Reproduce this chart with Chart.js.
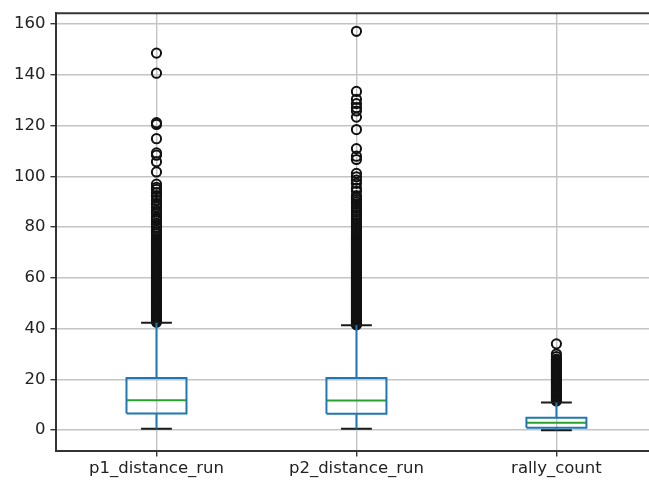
<!DOCTYPE html>
<html>
<head>
<meta charset="utf-8">
<script src="https://cdn.jsdelivr.net/npm/chart.js@4"></script>
<style>
html, body { margin: 0; padding: 0; background: #fff; overflow: hidden; }
#wrap { width: 663px; height: 481px; position: relative; }
</style>
</head>
<body>
<div id="wrap"><canvas id="boxChart"></canvas></div>
<script>
// Box plot of rally stats - drawn with scatter/line datasets

const categories = ['p1_distance_run', 'p2_distance_run', 'rally_count'];
const whiskerLow = [0.6, 0.6, 0];
const q1 = [6.6, 6.5, 1];
const medians = [11.8, 11.7, 2.9];
const q3 = [20.6, 20.6, 4.9];
const whiskerHigh = [42.3, 41.3, 10.9];

const p1Outliers = [148.5, 140.6, 121.1, 120.4, 114.8, 109.2, 108.3, 105.7, 101.7, 96.9, 95.6, 94.8, 93.6,
    92.4, 91.9, 90.6, 89.3, 88.7, 87.9, 86.7, 86.1, 85.2, 84.0, 83.4, 82.6, 81.5, 80.8, 79.9, 78.8, 78.1,
    77.3, 76.2, 75.5, 74.9, 74.4, 73.9, 73.5, 73.1, 72.6, 72.1, 71.7, 71.2, 70.8, 70.4, 69.9, 69.4, 69.0,
    68.5, 68.1, 67.6, 67.2, 66.8, 66.3, 65.8, 65.4, 64.9, 64.5, 64.0, 63.6, 63.2, 62.7, 62.2, 61.8, 61.3,
    60.9, 60.4, 60.0, 59.6, 59.1, 58.6, 58.2, 57.7, 57.3, 56.8, 56.4, 56.0, 55.5, 55.0, 54.6, 54.1, 53.7,
    53.2, 52.8, 52.4, 51.9, 51.4, 51.0, 50.5, 50.1, 49.6, 49.2, 48.8, 48.3, 47.8, 47.4, 46.9, 46.5, 46.0,
    45.6, 45.2, 44.7, 44.2, 43.8, 43.3, 42.9, 42.5];
const p2Outliers = [157.1, 133.4, 130.3, 128.6, 127.0, 125.7, 123.3, 118.4, 110.9, 107.9, 106.6, 101.1, 99.8,
    98.5, 97.2, 95.3, 94.1, 92.4, 91.6, 90.8, 89.9, 89.1, 88.2, 87.5, 86.6, 85.8, 84.9, 84.2, 83.3, 82.5,
    81.6, 80.8, 80.0, 79.2, 78.3, 77.5, 76.7, 76.1, 75.6, 75.1, 74.7, 74.2, 73.8, 73.3, 72.9, 72.4, 72.0,
    71.5, 71.1, 70.6, 70.2, 69.7, 69.3, 68.8, 68.4, 67.9, 67.5, 67.0, 66.6, 66.1, 65.7, 65.2, 64.8, 64.3,
    63.9, 63.4, 63.0, 62.5, 62.1, 61.6, 61.2, 60.7, 60.3, 59.8, 59.4, 58.9, 58.5, 58.0, 57.6, 57.1, 56.7,
    56.2, 55.8, 55.3, 54.9, 54.4, 54.0, 53.5, 53.1, 52.6, 52.2, 51.7, 51.3, 50.8, 50.4, 49.9, 49.5, 49.0,
    48.6, 48.1, 47.7, 47.2, 46.8, 46.3, 45.9, 45.4, 45.0, 44.5, 44.1, 43.6, 43.2, 42.7, 42.3, 41.8, 41.5];
const rallyOutliers = [34, 30, 29, 28, 27.5, 27, 26.5, 26, 25.5, 25, 24.5, 24, 23.5, 23, 22.5, 22, 21.5, 21,
    20.5, 20, 19.5, 19, 18.5, 18, 17.5, 17, 16.5, 16, 15.5, 15, 14.5, 14, 13.5, 13, 12.5, 12, 11.5];
const outliers = [p1Outliers, p2Outliers, rallyOutliers];

const yTicks = [0, 20, 40, 60, 80, 100, 120, 140, 160];

const boxColor = '#1f77b4';
const medianColor = '#2ca02c';
const boxHalf = 0.15;
const capHalf = 0.077;

function seg(points, color) {
    return {
        type: 'scatter',
        data: points,
        showLine: true,
        borderColor: color,
        borderWidth: 2,
        pointRadius: 0,
        fill: false,
        tension: 0
    };
}

const datasets = [];
categories.forEach(function(name, i) {
    const x = i + 1;
    // box
    datasets.push(seg([
        {x: x - boxHalf, y: q1[i]}, {x: x + boxHalf, y: q1[i]},
        {x: x + boxHalf, y: q3[i]}, {x: x - boxHalf, y: q3[i]},
        {x: x - boxHalf, y: q1[i]}
    ], boxColor));
    // whiskers
    datasets.push(seg([{x: x, y: q1[i]}, {x: x, y: whiskerLow[i]}], boxColor));
    datasets.push(seg([{x: x, y: q3[i]}, {x: x, y: whiskerHigh[i]}], boxColor));
    // caps
    datasets.push(seg([{x: x - capHalf, y: whiskerLow[i]}, {x: x + capHalf, y: whiskerLow[i]}], '#1a1a1a'));
    datasets.push(seg([{x: x - capHalf, y: whiskerHigh[i]}, {x: x + capHalf, y: whiskerHigh[i]}], '#1a1a1a'));
    // median
    datasets.push(seg([{x: x - boxHalf, y: medians[i]}, {x: x + boxHalf, y: medians[i]}], medianColor));
});
categories.forEach(function(name, i) {
    datasets.push({
        type: 'scatter',
        data: outliers[i].map(v => ({x: i + 1, y: v})),
        pointStyle: 'circle',
        pointRadius: 4.6,
        pointBorderWidth: 2,
        pointBorderColor: '#111',
        pointBackgroundColor: 'rgba(0,0,0,0)',
        showLine: false
    });
});

const topFrame = {
    id: 'topFrame',
    afterDraw(chart) {
        const ctx = chart.ctx;
        const a = chart.chartArea;
        ctx.save();
        ctx.strokeStyle = '#333';
        ctx.lineWidth = 2;
        ctx.beginPath();
        ctx.moveTo(a.left - 1, a.top);
        ctx.lineTo(a.right, a.top);
        ctx.stroke();
        ctx.restore();
    }
};

const tickFont = { family: 'DejaVu Sans', size: 16.5, lineHeight: 1.0 };

new Chart(document.getElementById('boxChart').getContext('2d'), {
    type: 'scatter',
    data: { datasets: datasets },
    options: {
        responsive: true,
        maintainAspectRatio: false,
        animation: false,
        layout: { padding: { left: 9, top: 9, right: 2, bottom: 0 } },
        plugins: { legend: { display: false }, tooltip: { enabled: false } },
        scales: {
            x: {
                type: 'linear',
                min: 0.5,
                max: 3.5,
                afterBuildTicks: function(scale) {
                    scale.ticks = categories.map((c, i) => ({ value: i + 1 }));
                },
                ticks: {
                    callback: v => categories[v - 1] || '',
                    font: tickFont,
                    color: '#222',
                    padding: 4,
                    maxRotation: 0,
                    autoSkip: false
                },
                grid: { color: '#c4c4c4', lineWidth: 1.4, tickLength: 6, tickColor: '#333' },
                border: { color: '#333', width: 2 }
            },
            y: {
                min: -8,
                max: 164.2,
                afterBuildTicks: function(scale) {
                    scale.ticks = yTicks.map(v => ({ value: v }));
                },
                ticks: {
                    font: tickFont,
                    color: '#222',
                    padding: 5
                },
                grid: { color: '#c4c4c4', lineWidth: 1.4, tickLength: 6, tickColor: '#333' },
                border: { color: '#333', width: 2 }
            }
        }
    },
    plugins: [topFrame]
});
</script>
</body>
</html>
